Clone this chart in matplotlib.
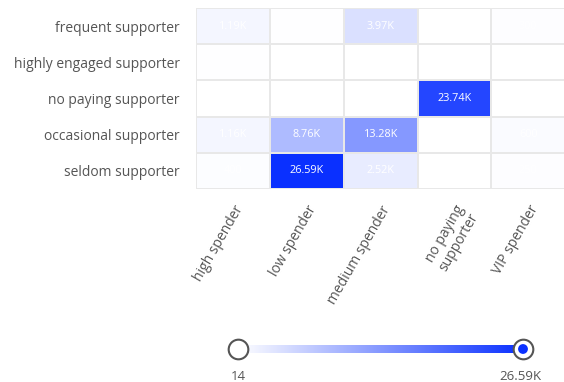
import numpy as np
import matplotlib.pyplot as plt
from matplotlib.colors import LinearSegmentedColormap

rows = ['frequent supporter', 'highly engaged supporter', 'no paying supporter',
        'occasional supporter', 'seldom supporter']
cols = ['high spender', 'low spender', 'medium spender', 'no paying\nsupporter', 'VIP spender']

# NaN = no data for that pair
frequent = [1190, 150, 3970, np.nan, 300]
highly_engaged = [120, 30, 40, np.nan, 14]
no_paying = [np.nan, np.nan, np.nan, 23740, np.nan]
occasional = [1160, 8760, 13280, np.nan, 600]
seldom = [400, 26590, 2520, np.nan, 250]

vmin, vmax = 14, 26590


def fmt(v):
    if v >= 1000:
        return f"{v / 1000:.2f}K"
    return f"{v:.0f}"


plt.rcParams['font.family'] = ['Open Sans', 'DejaVu Sans']
txt = '#555555'

cmap = LinearSegmentedColormap.from_list('wb', ['#ffffff', '#0a30ff'])
data = np.ma.masked_invalid(np.array([frequent, highly_engaged, no_paying, occasional, seldom]))

fig = plt.figure(figsize=(5.64, 3.82), dpi=100)
ax = fig.add_axes([0.348, 0.505, 0.654, 0.474])
ax.pcolormesh(data, cmap=cmap, vmin=vmin, vmax=vmax, edgecolors='#e8e8e8', linewidth=1.2)
ax.set_xlim(0, 5)
ax.set_ylim(5, 0)
for i in range(len(rows)):
    for j in range(len(cols)):
        v = data[i, j]
        if v is np.ma.masked:
            continue
        ax.text(j + 0.5, i + 0.5, fmt(v), ha='center', va='center', color='white', fontsize=7.8)

ax.set_xticks(np.arange(len(cols)) + 0.5)
ax.set_xticklabels(cols, rotation=60, ha='right', rotation_mode='anchor', fontsize=10, color=txt,
                   linespacing=1.1)
ax.set_yticks(np.arange(len(rows)) + 0.5)
ax.set_yticklabels(rows, fontsize=10, color=txt)
ax.tick_params(axis='y', length=0, pad=12)
ax.tick_params(axis='x', length=0, pad=10)
for s in ax.spines.values():
    s.set_visible(False)

# slider-like legend
cax = fig.add_axes([0.422, 0.075, 0.505, 0.022])
grad = np.linspace(vmin, vmax, 256)[None, :]
cax.imshow(grad, aspect='auto', cmap=cmap, vmin=vmin, vmax=vmax, extent=(0, 1, 0, 1))
cax.set_axis_off()

hax = fig.add_axes([0.0, 0.0, 1.0, 1.0], facecolor='none')
hax.set_xlim(0, 564)
hax.set_ylim(382, 0)
hax.set_axis_off()
hax.scatter([238], [349], s=200, facecolor='white', edgecolor='#555555', linewidth=1.5, zorder=3)
hax.scatter([523], [349], s=200, facecolor='white', edgecolor='#555555', linewidth=1.5, zorder=3)
hax.scatter([523], [349], s=50, facecolor='#0a30ff', edgecolor='none', zorder=4)
hax.text(231, 380, fmt(vmin), ha='left', va='baseline', fontsize=9.5, color=txt)
hax.text(541, 380, fmt(vmax), ha='right', va='baseline', fontsize=9.5, color=txt)

fig.savefig('out.png', dpi=100, facecolor='white')
